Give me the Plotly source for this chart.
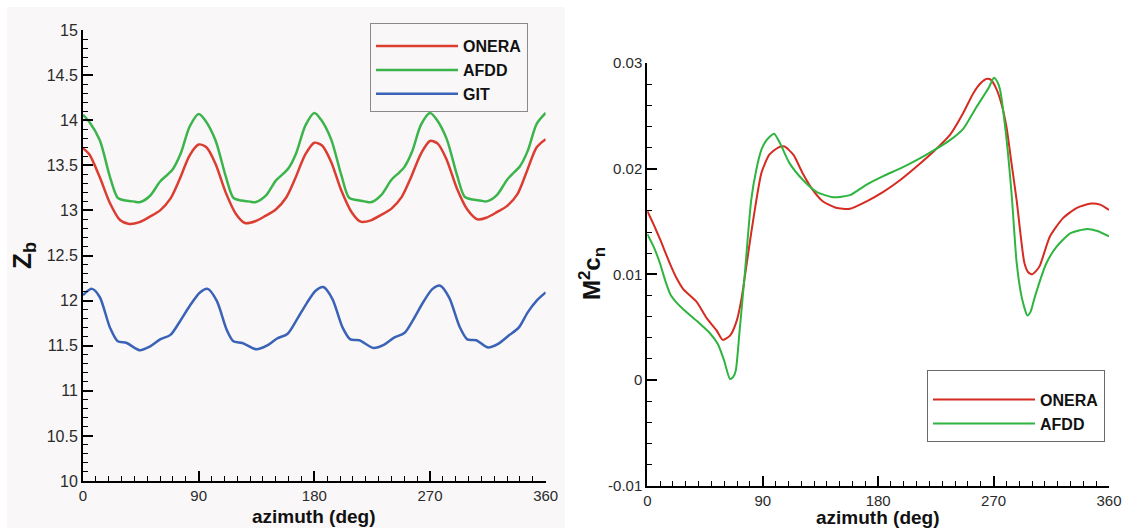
import plotly.graph_objects as go

W, H = 1130, 528

# ---------------- Left panel data: blade flap Z_b ----------------
onera_z_x = [0, 5, 13, 21, 29, 36, 44, 52, 60, 68, 75, 83, 90,
             96, 103, 111, 119, 126, 134, 142, 150, 158, 165, 173, 180,
             186, 193, 201, 209, 216, 224, 232, 240, 248, 255, 263, 270,
             276, 283, 291, 299, 307, 314, 322, 330, 338, 345, 353, 360]
onera_z_y = [13.69, 13.62, 13.37, 13.08, 12.89, 12.85, 12.87, 12.93, 13.00, 13.13, 13.34, 13.61, 13.73,
             13.70, 13.52, 13.20, 12.96, 12.86, 12.88, 12.94, 13.01, 13.14, 13.35, 13.62, 13.75,
             13.72, 13.54, 13.22, 12.98, 12.875, 12.89, 12.95, 13.02, 13.15, 13.36, 13.63, 13.77,
             13.74, 13.56, 13.24, 13.01, 12.90, 12.92, 12.98, 13.05, 13.18, 13.42, 13.70, 13.79]

afdd_z_x = [0, 5, 13, 21, 27, 33, 39, 44, 52, 60, 66, 70, 76, 83, 90,
            95, 103, 111, 117, 123, 129, 134, 142, 150, 156, 160, 166, 173, 180,
            185, 193, 201, 207, 213, 219, 224, 232, 240, 246, 250, 256, 263, 270,
            275, 283, 291, 297, 303, 309, 314, 322, 330, 336, 340, 346, 353, 360]
afdd_z_y = [14.06, 13.98, 13.78, 13.37, 13.14, 13.11, 13.10, 13.09, 13.16, 13.32, 13.40, 13.46, 13.63, 13.93, 14.07,
            14.00, 13.78, 13.38, 13.14, 13.11, 13.10, 13.09, 13.16, 13.33, 13.41, 13.47, 13.64, 13.94, 14.08,
            14.01, 13.79, 13.39, 13.14, 13.115, 13.10, 13.09, 13.17, 13.34, 13.42, 13.48, 13.65, 13.95, 14.08,
            14.01, 13.79, 13.39, 13.15, 13.12, 13.11, 13.10, 13.17, 13.34, 13.43, 13.49, 13.66, 13.96, 14.08]

git_z_x = [0, 7, 13, 21, 27, 34, 44, 52, 60, 68, 75, 83, 91,
           97, 104, 112, 117, 124, 135, 143, 151, 159, 166, 174, 181,
           187, 194, 202, 208, 215, 226, 234, 242, 250, 257, 265, 272,
           278, 285, 293, 299, 306, 315, 323, 331, 339, 346, 353, 360]
git_z_y = [12.06, 12.13, 12.04, 11.70, 11.55, 11.53, 11.45, 11.49, 11.57, 11.62, 11.76, 11.94, 12.09,
           12.13, 12.00, 11.67, 11.55, 11.53, 11.46, 11.50, 11.58, 11.63, 11.78, 11.97, 12.11,
           12.15, 12.02, 11.70, 11.57, 11.56, 11.475, 11.51, 11.59, 11.64, 11.79, 11.99, 12.13,
           12.165, 12.03, 11.71, 11.57, 11.56, 11.48, 11.52, 11.61, 11.70, 11.87, 12.00, 12.09]

# ---------------- Right panel data: M^2 c_n ----------------
onera_cn_x = [0, 5, 10, 17.7, 23, 28, 38.5, 46, 54, 58.8, 64.5, 69.7, 73.6, 77.5, 81, 85, 89, 95,
              102, 107, 114, 121, 129, 137, 147, 158, 171, 184, 197, 210, 223, 236, 246, 254,
              260, 265, 268, 272, 276, 280, 284, 288, 294, 297, 300, 303, 306, 314, 324, 335,
              346, 353, 360]
onera_cn_y = [0.0160, 0.0147, 0.0133, 0.0110, 0.0096, 0.0086, 0.0074, 0.0059, 0.0047, 0.0038, 0.0042, 0.0056,
              0.0078, 0.0110, 0.0139, 0.0170, 0.0196, 0.0213, 0.0220, 0.0221, 0.0213, 0.0196, 0.0180,
              0.0169, 0.0163, 0.0162, 0.0169, 0.0178, 0.0189, 0.0202, 0.0216, 0.0232, 0.0252, 0.0271,
              0.0281, 0.0285, 0.0284, 0.0276, 0.0262, 0.0240, 0.0205, 0.0170, 0.0111, 0.0102, 0.0100,
              0.0103, 0.0108, 0.0136, 0.0153, 0.0163, 0.0167, 0.0166, 0.0161]

afdd_cn_x = [0, 5, 10, 14, 18, 23, 28, 38.5, 49, 55, 60, 64.5, 67, 69, 72, 76, 81, 85, 89, 93, 98.8,
             103.5, 111, 121.6, 132, 145, 158, 171, 184, 197, 210, 223, 236, 246.5, 257, 266,
             270.3, 273, 275, 279, 284, 288, 292, 296.4, 299, 302, 311, 319, 330, 343, 351, 360]
afdd_cn_y = [0.0138, 0.0126, 0.0110, 0.0094, 0.0081, 0.0073, 0.0067, 0.0056, 0.0044, 0.0034, 0.0018, 0.0001,
             0.0003, 0.0009, 0.0047, 0.0100, 0.0170, 0.0199, 0.0218, 0.0227, 0.0233, 0.0224, 0.0205,
             0.0189, 0.0178, 0.0173, 0.0175, 0.0185, 0.0193, 0.0200, 0.0208, 0.0217, 0.0227, 0.0238,
             0.0259, 0.0276, 0.0286, 0.0282, 0.0275, 0.0240, 0.0177, 0.0111, 0.0078, 0.0061, 0.0065,
             0.0078, 0.0110, 0.0126, 0.0139, 0.0143, 0.0141, 0.0136]

x_ticks = [0, 90, 180, 270, 360]
left_y_ticks = [10, 10.5, 11, 11.5, 12, 12.5, 13, 13.5, 14, 14.5, 15]
right_y_ticks = [-0.01, 0, 0.01, 0.02, 0.03]
right_y_labels = ["-0.01", "0", "0.01", "0.02", "0.03"]

RED_L, GREEN_L, BLUE_L = "#dc3d31", "#3bb54b", "#3a62b6"
RED_R, GREEN_R = "#d52b20", "#2fb53f"
FONT = "Liberation Sans, Arial, Helvetica, sans-serif"
PANEL_BG = "#f9f7f8"

fig = go.Figure()

fig.add_trace(go.Scatter(x=onera_z_x, y=onera_z_y, name="ONERA", mode="lines",
                         line=dict(color=RED_L, width=2.5, shape="spline", smoothing=0.8),
                         xaxis="x", yaxis="y", legend="legend"))
fig.add_trace(go.Scatter(x=afdd_z_x, y=afdd_z_y, name="AFDD", mode="lines",
                         line=dict(color=GREEN_L, width=2.5, shape="spline", smoothing=0.8),
                         xaxis="x", yaxis="y", legend="legend"))
fig.add_trace(go.Scatter(x=git_z_x, y=git_z_y, name="GIT", mode="lines",
                         line=dict(color=BLUE_L, width=2.5, shape="spline", smoothing=0.8),
                         xaxis="x", yaxis="y", legend="legend"))

fig.add_trace(go.Scatter(x=onera_cn_x, y=onera_cn_y, name="ONERA", mode="lines",
                         line=dict(color=RED_R, width=2, shape="spline", smoothing=0.6),
                         xaxis="x2", yaxis="y2", legend="legend2"))
fig.add_trace(go.Scatter(x=afdd_cn_x, y=afdd_cn_y, name="AFDD", mode="lines",
                         line=dict(color=GREEN_R, width=2, shape="spline", smoothing=0.6),
                         xaxis="x2", yaxis="y2", legend="legend2"))

def axis_common(tickfont_size):
    return dict(showline=True, linecolor="black", linewidth=2, mirror=False,
                ticks="inside", ticklen=10, tickwidth=2, tickcolor="black",
                showgrid=False, zeroline=False, automargin=False,
                tickfont=dict(family=FONT, size=tickfont_size, color="#2a2a2a"))

L0, L1 = 83 / W, 545.7 / W
R0, R1 = 647.3 / W, 1109 / W

xa = axis_common(15)
xa.update(domain=[L0, L1], range=[0, 360], tickvals=x_ticks, anchor="y",
          minor=dict(dtick=10, tick0=0, ticks="inside", ticklen=5, tickwidth=1, tickcolor="black"))
ya = axis_common(16)
ya.update(domain=[1 - 481 / H, 1 - 30 / H], range=[10, 15], tickvals=left_y_ticks, anchor="x",
          minor=dict(dtick=0.1, tick0=10, ticks="inside", ticklen=5, tickwidth=1, tickcolor="black"))
xa2 = axis_common(15)
xa2.update(domain=[R0, R1], range=[0, 360], tickvals=x_ticks, anchor="y2",
           minor=dict(dtick=10, tick0=0, ticks="inside", ticklen=5, tickwidth=1, tickcolor="black"))
ya2 = axis_common(15)
ya2.update(domain=[1 - 485.7 / H, 1 - 63 / H], range=[-0.01, 0.03], tickvals=right_y_ticks,
           ticktext=right_y_labels, anchor="x2",
           minor=dict(dtick=0.002, tick0=0, ticks="inside", ticklen=5, tickwidth=1, tickcolor="black"))

title_font = dict(family=FONT, size=19, color="#111", weight="bold")

fig.update_layout(
    width=W, height=H, margin=dict(l=0, r=0, t=0, b=0, pad=0, autoexpand=False),
    paper_bgcolor="white", plot_bgcolor="rgba(0,0,0,0)",
    xaxis=xa, yaxis=ya, xaxis2=xa2, yaxis2=ya2,
    showlegend=True,
    legend=dict(x=370 / W, y=1 - 23 / H, xanchor="left", yanchor="top",
                bgcolor=PANEL_BG, bordercolor="#8a8a8a", borderwidth=1,
                font=dict(family=FONT, size=16, color="#111", weight="bold"),
                title=dict(text=" ", font=dict(size=4)),
                itemwidth=82, tracegroupgap=0),
    legend2=dict(x=927 / W, y=1 - 370 / H, xanchor="left", yanchor="top",
                 bgcolor="white", bordercolor="#6a6a6a", borderwidth=1,
                 font=dict(family=FONT, size=16, color="#111", weight="bold"),
                 title=dict(text=" ", font=dict(size=9)),
                 itemwidth=102, tracegroupgap=0),
    shapes=[dict(type="rect", xref="paper", yref="paper", x0=7 / W, x1=565 / W, y0=0, y1=1 - 7 / H,
                 fillcolor=PANEL_BG, line=dict(width=0), layer="below")],
    annotations=[
        dict(text="azimuth (deg)", xref="paper", yref="paper", x=314 / W, y=1 - 516 / H,
             xanchor="center", yanchor="middle", showarrow=False, font=title_font),
        dict(text="azimuth (deg)", xref="paper", yref="paper", x=878 / W, y=1 - 517 / H,
             xanchor="center", yanchor="middle", showarrow=False, font=title_font),
        dict(text="Z<sub>b</sub>", xref="paper", yref="paper", x=23 / W, y=1 - 256 / H,
             xanchor="center", yanchor="middle", showarrow=False, textangle=-90,
             font=dict(family=FONT, size=26, color="#111", weight="bold")),
        dict(text="M<sup>2</sup>c<sub>n</sub>", xref="paper", yref="paper", x=592 / W, y=1 - 274 / H,
             xanchor="center", yanchor="middle", showarrow=False, textangle=-90,
             font=dict(family=FONT, size=24, color="#111", weight="bold")),
    ],
)

fig.write_html("out.html")
